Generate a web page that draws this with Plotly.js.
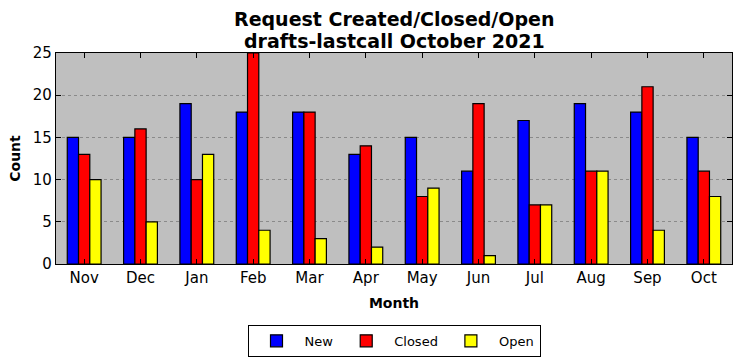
<!DOCTYPE html>
<html><head><meta charset="utf-8">
<script src="https://cdn.plot.ly/plotly-3.0.1.min.js"></script>
<style>body{margin:0;padding:0;background:#fff}#chart{width:742px;height:361px}</style>
</head><body><div id="chart"></div>
<script>
const months = ["Nov","Dec","Jan","Feb","Mar","Apr","May","Jun","Jul","Aug","Sep","Oct"];
const newCounts = [15,15,19,18,18,13,15,11,17,19,18,15];
const closedCounts = [13,16,10,25,18,14,8,19,7,11,21,11];
const openCounts = [10,5,13,4,3,2,9,1,7,11,4,8];
const yTicks = [0,5,10,15,20,25];
const titleLines = ["Request Created/Closed/Open", "drafts-lastcall October 2021"];

const font = "DejaVu Sans, sans-serif";
function series(name, vals, color){
  return {type:"bar", name:name, x:months, y:vals,
    marker:{color:color, line:{color:"#000", width:1.2}}};
}
const data = [
  series("New", newCounts, "#0000ff"),
  series("Closed", closedCounts, "#ff0000"),
  series("Open", openCounts, "#ffff00")
];
const layout = {
  width:742, height:361,
  margin:{l:56, r:10, t:53, b:97},
  paper_bgcolor:"#fff", plot_bgcolor:"#bfbfbf",
  font:{family:font, color:"#000"},
  annotations:[
    {text:"<b>"+titleLines[0]+"</b>", xref:"paper", yref:"paper", x:0.5, y:1.163,
     xanchor:"center", yanchor:"middle", showarrow:false, font:{size:19, family:font}},
    {text:"<b>"+titleLines[1]+"</b>", xref:"paper", yref:"paper", x:0.5, y:1.057,
     xanchor:"center", yanchor:"middle", showarrow:false, font:{size:19, family:font}}
  ],
  barmode:"group", bargap:0.4, bargroupgap:0,
  xaxis:{type:"category", range:[-0.5,11.5], showline:true, linecolor:"#000", linewidth:1.2,
    mirror:"ticks", ticks:"inside", ticklen:5, tickcolor:"#000", automargin:false,
    tickfont:{size:15, family:font}, showgrid:false, zeroline:false,
    title:{text:"<b>Month</b>", font:{size:14, family:font}, standoff:12}},
  yaxis:{range:[0,25], tickvals:yTicks, showline:true, linecolor:"#000", linewidth:1.2,
    mirror:"ticks", ticks:"inside", ticklen:5, tickcolor:"#000", automargin:false,
    tickfont:{size:15, family:font}, showgrid:true, gridcolor:"#8a8a8a", griddash:"dot", gridwidth:1,
    zeroline:false,
    title:{text:"<b>Count</b>", font:{size:14, family:font}, standoff:8}},
  legend:{orientation:"h", x:0.5, xanchor:"center", yref:"container", y:0.1, yanchor:"top",
    bordercolor:"#000", borderwidth:1, bgcolor:"#fff", font:{size:13, family:font},
    traceorder:"normal", itemwidth:46},
  showlegend:true
};
Plotly.newPlot("chart", data, layout, {displayModeBar:false, staticPlot:true});
</script></body></html>
